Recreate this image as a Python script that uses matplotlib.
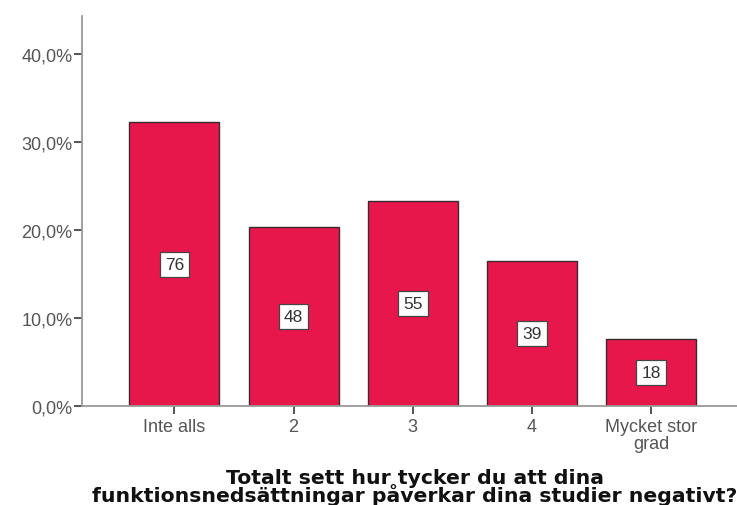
import matplotlib
matplotlib.use("Agg")
import matplotlib.pyplot as plt
from matplotlib.ticker import FuncFormatter

categories = ["Inte alls", "2", "3", "4", "Mycket stor\ngrad"]
counts = [76, 48, 55, 39, 18]
total = sum(counts)
percents = [c / total * 100 for c in counts]
yticks = [0, 10, 20, 30, 40]

plt.rcParams['font.family'] = ['Liberation Sans', 'DejaVu Sans']

fig = plt.figure(figsize=(7.37, 5.06), dpi=100)
ax = fig.add_axes([82/737, 1 - 407/506, 1 - 82/737, (407 - 17)/506])

x = list(range(len(categories)))
bars = ax.bar(x, percents, width=0.755, color="#E8174B", edgecolor="#3a2a2e", linewidth=1.0)

for xi, p, c in zip(x, percents, counts):
    ax.text(xi, p / 2, str(c), ha="center", va="center", fontsize=12.5, color="#333333",
            bbox=dict(boxstyle="square,pad=0.3", facecolor="white", edgecolor="#444444", linewidth=0.9))

ax.set_xlim(-0.775, 4.72)
ax.set_ylim(0, 44.3)
ax.set_yticks(yticks)
ax.yaxis.set_major_formatter(FuncFormatter(lambda v, _: f"{v:.1f}%".replace(".", ",")))
ax.set_xticks(x)
ax.set_xticklabels(categories, linespacing=0.95)

for s in ["top", "right"]:
    ax.spines[s].set_visible(False)
for s in ["left", "bottom"]:
    ax.spines[s].set_color("#999999")
    ax.spines[s].set_linewidth(1.3)

ax.tick_params(axis="both", colors="#444444", length=6, width=1.3, labelsize=13, labelcolor="#555555")
ax.tick_params(axis="y", pad=1)
ax.tick_params(axis="x", pad=3)

fig.text(415/737, 1 - 469/506, "Totalt sett hur tycker du att dina\nfunktionsnedsättningar påverkar dina studier negativt?",
         ha="center", va="top", fontsize=14.7, fontweight="bold", color="#111111", linespacing=0.8,
         family=["DejaVu Sans"])

fig.savefig("out.png", dpi=100)
